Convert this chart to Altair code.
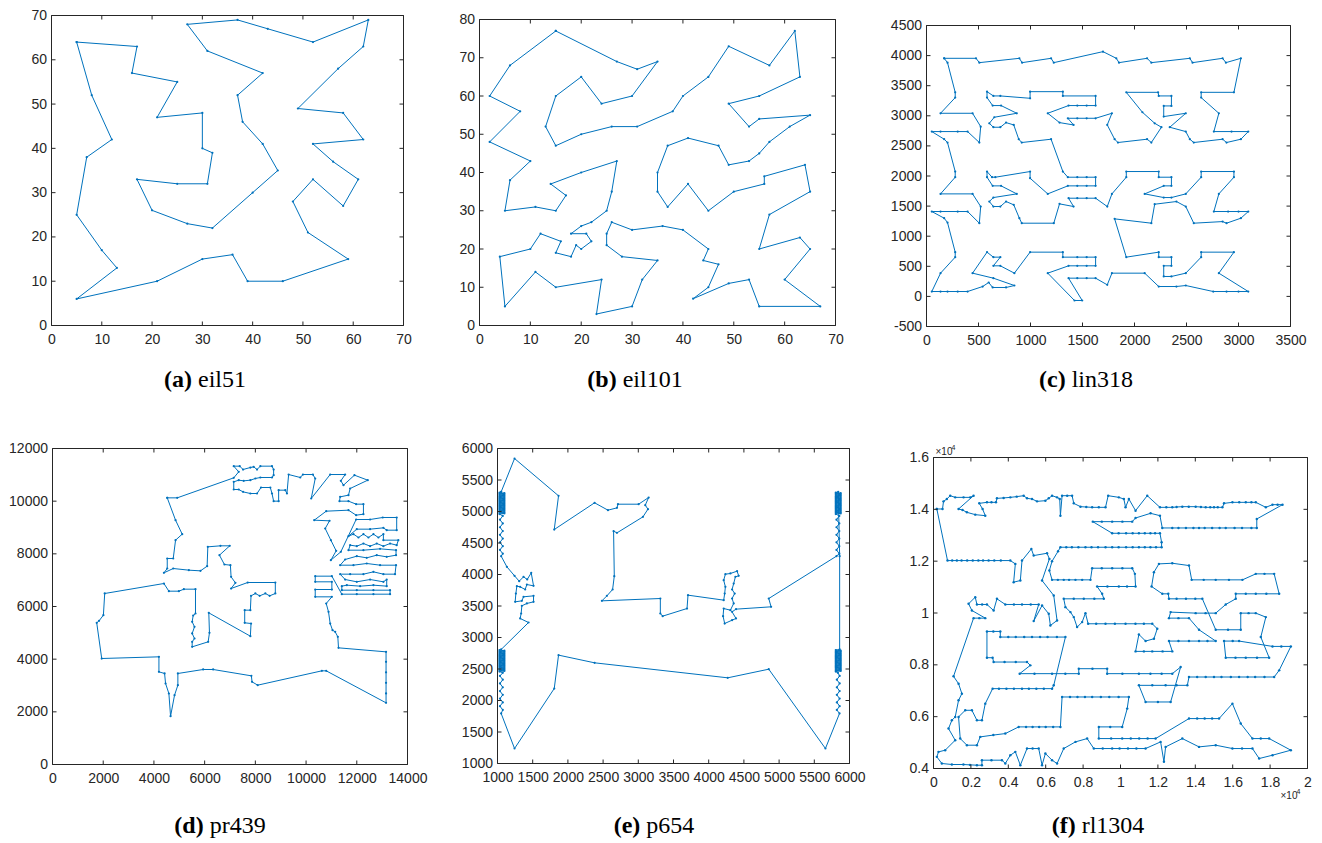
import altair as alt
import pandas as pd

BLUE = "#0072BD"
AX = "#262626"
SANS = "Liberation Sans"
SERIF = "Liberation Serif"
W, H = 1322, 843

# ---------------- data (tours) ----------------
eil51_x = [5, 17, 16, 25, 21, 30, 30, 32, 31, 25, 17, 20, 27, 32, 40, 45, 42, 38, 37, 42, 31, 27, 37, 43, 52, 63,
           62, 57, 49, 58, 62, 52, 56, 61, 58, 52, 48, 51, 59, 46, 39, 36, 30, 21, 5, 13, 10, 5, 7, 12, 8]
eil51_y = [64, 63, 57, 55, 47, 48, 40, 39, 32, 32, 33, 26, 23, 22, 30, 35, 41, 46, 52, 57, 62, 68, 69, 67, 64, 69,
           63, 58, 49, 48, 42, 41, 37, 33, 27, 33, 28, 21, 15, 10, 10, 16, 15, 10, 6, 13, 17, 25, 38, 42, 52]

eil101_x = [15, 27, 31, 35, 30, 24, 20, 15, 13, 15, 20, 26, 31, 38, 40, 45, 49, 57, 62, 63, 55, 49, 53, 55, 65, 61,
            57, 55, 53, 49, 47, 41, 37, 35, 35, 37, 41, 45, 50, 56, 56, 64, 65, 57, 55, 63, 65, 60, 67, 55, 53, 49,
            42, 45, 47, 44, 45, 40, 36, 30, 26, 25, 25, 28, 35, 32, 30, 23, 24, 15, 11, 5, 4, 10, 12, 16, 15, 18,
            19, 20, 22, 21, 18, 20, 22, 25, 26, 27, 20, 14, 17, 15, 11, 5, 6, 10, 2, 8, 2, 6]
eil101_y = [77, 69, 67, 69, 60, 58, 65, 60, 52, 47, 50, 52, 52, 56, 60, 65, 73, 68, 77, 65, 60, 58, 52, 54, 55, 52,
            48, 45, 43, 42, 47, 49, 47, 40, 35, 31, 37, 30, 35, 37, 39, 42, 35, 29, 20, 23, 20, 12, 5, 5, 12, 11,
            7, 10, 16, 17, 20, 25, 26, 25, 27, 24, 21, 18, 17, 12, 5, 3, 12, 10, 14, 5, 18, 20, 24, 22, 19, 18,
            21, 20, 22, 24, 24, 26, 27, 30, 35, 43, 40, 37, 34, 30, 31, 30, 38, 43, 48, 56, 60, 68]

lin318_tour = [
    (170, 3955), (476, 3955), (508, 3883), (893, 3955), (919, 3883), (1198, 3955), (1224, 3883), (1697, 4066),
    (1825, 3955), (1851, 3883), (2121, 3955), (2162, 3883), (2532, 3955), (2558, 3883), (2847, 3955), (2879, 3883),
    (3023, 3955),
    (2956, 3390), (2641, 3390), (2641, 3302), (2811, 3042), (2763, 2738), (2933, 2738), (3094, 2738), (3023, 2611),
    (2885, 2556), (2847, 2611), (2570, 2556), (2532, 2611), (2493, 2738), (2339, 2810), (2493, 3042), (2281, 2987),
    (2281, 3164), (2355, 3164), (2355, 3330), (2233, 3330), (2227, 3390), (1921, 3390), (2076, 3059), (2194, 2876),
    (2259, 2810), (2162, 2556), (2121, 2611), (1841, 2556), (1809, 2611), (1738, 2848), (1783, 3042), (1626, 2959),
    (1540, 2959), (1450, 2959), (1359, 2959), (1414, 2848), (1279, 2887), (1166, 3042), (1366, 3170), (1450, 3170),
    (1540, 3170), (1626, 3170), (1626, 3330), (1311, 3330), (1311, 3401), (996, 3401), (996, 3291), (710, 3330),
    (643, 3330), (582, 3401), (582, 3302), (636, 3170), (717, 3170), (868, 3042), (652, 2976), (604, 2876),
    (643, 2810), (710, 2810), (765, 2887), (839, 2848), (887, 2611), (916, 2556), (1198, 2611), (1311, 2074),
    (1359, 1980), (1450, 1980), (1540, 1980), (1626, 1980), (1626, 1836), (1540, 1836), (1450, 1836), (1359, 1836),
    (1166, 1703), (996, 1963), (996, 2074), (662, 1980), (630, 1980), (582, 2074), (582, 1980), (636, 1836),
    (717, 1836), (868, 1703), (643, 1642), (604, 1576), (643, 1493), (710, 1493), (765, 1576), (839, 1521),
    (893, 1299), (916, 1216), (1224, 1216), (1279, 1537), (1414, 1493), (1366, 1631), (1450, 1631), (1540, 1631),
    (1626, 1631), (1738, 1493), (1783, 1703), (1921, 1980), (1921, 2074), (2233, 2074), (2233, 1980), (2355, 1980),
    (2355, 1836), (2281, 1836), (2098, 1703), (2281, 1642), (2355, 1642), (2493, 1703), (2641, 1980), (2641, 2074),
    (2956, 2074), (2956, 1980), (2811, 1703), (2763, 1410), (2900, 1410), (3000, 1410), (3094, 1410), (3023, 1299),
    (2885, 1216), (2847, 1243), (2570, 1216), (2493, 1493), (2403, 1576), (2194, 1531), (2162, 1216), (1809, 1288),
    (1921, 652),
    (2233, 735), (2233, 652), (2355, 652), (2355, 508), (2281, 508), (2281, 331), (2355, 331), (2493, 386),
    (2641, 652), (2641, 735), (2956, 735), (2811, 386), (3094, 81), (3000, 81), (2885, 81), (2757, 81), (2493, 181),
    (2403, 164), (2233, 164), (2098, 386), (1783, 386), (1738, 192), (1626, 303), (1540, 303), (1450, 303),
    (1366, 303), (1497, -68), (1423, -68), (1166, 386), (1366, 508), (1450, 508), (1540, 508), (1626, 508),
    (1626, 652), (1540, 652), (1450, 652), (1311, 652), (1311, 735), (996, 735), (845, 386), (710, 508), (643, 508),
    (710, 652), (643, 652), (582, 735), (443, 386), (643, 303), (845, 181), (765, 148), (636, 148), (598, 231),
    (540, 164), (395, 81), (300, 81), (202, 81), (135, 81), (51, 81),
    (135, 386), (276, 652), (276, 735), (202, 1227), (170, 1299), (51, 1410), (135, 1410), (300, 1410), (395, 1410),
    (508, 1216), (521, 1493), (443, 1703), (135, 1703), (276, 1980), (276, 2074), (202, 2556), (170, 2611),
    (51, 2738), (135, 2738), (300, 2738), (395, 2738), (508, 2556), (521, 2820), (443, 3042), (135, 3042),
    (276, 3302), (276, 3390), (202, 3883),
]

pr439_tour = [
    (4525, 10126), (4918, 10126), (7148, 10886), (7344, 11114), (7148, 11329), (7384, 11329), (7515, 11202),
    (7803, 11278), (7934, 11303), (8066, 11202), (8197, 11329), (8656, 11329), (8721, 11202), (8721, 10987),
    (8656, 10899), (8197, 10899), (8000, 10861), (7803, 10797), (7541, 10772), (7344, 10797), (7148, 10734),
    (7148, 10443), (7344, 10443), (7515, 10354), (7803, 10291), (8066, 10291), (8223, 10519), (8590, 10519),
    (8656, 10291), (8721, 10000), (8918, 10000), (8918, 10418), (9181, 10418), (9246, 10291), (9312, 11012),
    (9771, 10899), (9876, 11012), (10269, 11012), (10361, 10861), (10203, 10101), (10951, 11012), (11541, 11012),
    (11371, 10772), (11476, 10607), (11908, 10987), (12433, 10797), (11738, 10481), (11672, 10228), (11344, 10164),
    (11318, 10000), (11672, 10000), (11974, 9886), (12262, 9886), (12262, 9506), (11974, 9468), (11672, 9658),
    (10794, 9620), (10322, 9278), (10925, 9253), (10754, 8962), (10977, 8519), (11187, 8114), (10977, 7759),
    (11371, 8076),
    (11974, 9304), (12525, 9304), (13023, 9380), (13574, 9380),
    (13574, 8898), (13180, 8898), (13049, 8987), (12525, 8937), (12000, 8937),
    (11672, 8671), (11869, 8747), (12066, 8620), (12262, 8747), (12459, 8620), (12656, 8747), (12853, 8620),
    (13049, 8747), (13049, 8519), (13639, 8519),
    (13574, 8329), (13312, 8392), (13049, 8291), (12787, 8392), (12525, 8291), (12262, 8392), (12000, 8291),
    (11738, 8329),
    (11672, 8139), (12262, 8139), (12918, 8190), (13548, 8139),
    (13548, 7949), (13180, 7886), (12787, 7949), (12393, 7848), (12000, 7911), (11541, 7785),
    (11344, 7569), (11869, 7569), (12393, 7633), (12918, 7569), (13548, 7569),
    (13508, 7228), (13049, 7228), (12656, 7316), (12262, 7228), (11738, 7228), (11344, 7228),
    (11541, 7025), (12000, 6937), (12525, 7025), (13049, 6937), (13180, 7025),
    (13180, 6772), (12656, 6810), (12131, 6772), (11607, 6810), (11410, 6772),
    (11410, 6620), (12000, 6620), (12656, 6620), (13312, 6620),
    (13312, 6468), (12656, 6468), (12000, 6468), (11410, 6468),
    (11017, 7152), (10361, 7152), (10361, 6937), (11017, 6937), (11017, 6645), (10361, 6645), (10361, 6367),
    (11017, 6367),
    (10794, 6114), (10885, 5797), (10951, 5354), (11043, 5101), (11148, 5038), (11252, 4848), (11279, 4430),
    (13154, 4278), (13154, 3900), (13154, 3500), (13154, 3100), (13154, 2700), (13154, 2342), (10794, 3557),
    (10623, 3557), (8092, 3013), (7869, 3139), (7843, 3367), (6335, 3608), (5941, 3608), (4944, 3456),
    (4944, 3013), (4813, 2633), (4656, 1835), (4590, 2696), (4459, 3076), (4420, 3456), (4197, 3519),
    (4197, 4089), (1941, 4025), (1744, 5380), (1836, 5456), (2007, 5671), (2059, 6494), (4394, 6873),
    (4590, 6582), (4984, 6582), (5180, 6658), (5639, 6658), (5639, 5734), (5548, 5658), (5508, 5418),
    (5600, 5228), (5508, 4975), (5600, 4785), (5508, 4658), (5508, 4468), (6138, 4658), (6190, 5000),
    (6164, 5759), (7803, 4873), (7830, 5354), (7580, 5380), (7580, 5861), (7803, 5861), (7830, 6405),
    (8000, 6494), (8171, 6405), (8394, 6494), (8564, 6405), (8787, 6494), (8787, 6911), (7698, 6911),
    (7043, 6683), (7213, 6899), (7043, 7126), (7016, 7569), (6780, 7595), (6584, 7949), (6990, 8304),
    (6623, 8304), (6125, 8266), (6098, 7532), (5836, 7354), (5377, 7380), (4761, 7443), (4394, 7278),
    (4525, 7443), (4525, 7823), (4761, 7823), (4853, 8519), (5115, 8747), (4853, 9278),
]

p654_tour = [
    (1052, 5312), (1242, 5841), (1867, 5249), (1806, 4714), (2379, 5138), (2569, 5021), (2697, 5058), (2711, 5116),
    (3005, 5116), (3147, 5222), (3099, 5101), (3137, 5037), (3066, 4915), (2697, 4661), (2649, 4688), (2659, 3974),
    (2635, 3762), (2554, 3661), (2483, 3582), (3313, 3619), (3313, 3381), (3346, 3339), (3692, 3460), (3706, 3672),
    (4213, 3593), (4227, 3698), (4237, 3804), (4213, 3910), (4237, 4005), (4308, 4016), (4403, 4053), (4426, 3979),
    (4379, 3963), (4355, 3857), (4332, 3762), (4369, 3698), (4332, 3619), (4355, 3540), (4308, 3434), (4213, 3460),
    (4204, 3339), (4227, 3222), (4332, 3275), (4388, 3302), (4332, 3407), (4388, 3450), (4886, 3487), (4853, 3619),
    (5815, 4291),
    (5855, 4330), (5815, 4390), (5855, 4450), (5815, 4510), (5855, 4570), (5815, 4630), (5855, 4690), (5815, 4750),
    (5855, 4810), (5815, 4870), (5855, 4930),
    (5805, 4960), (5875, 4970), (5805, 4980), (5875, 4990), (5805, 5000), (5875, 5010), (5805, 5020), (5875, 5030),
    (5805, 5040), (5875, 5050), (5805, 5060), (5875, 5070), (5805, 5080), (5875, 5090), (5805, 5100), (5875, 5110),
    (5805, 5120), (5875, 5130), (5805, 5140), (5875, 5150), (5805, 5160), (5875, 5170), (5805, 5180), (5875, 5190),
    (5805, 5200), (5875, 5210), (5805, 5220), (5875, 5230), (5805, 5240), (5875, 5250), (5805, 5260), (5875, 5270),
    (5805, 5280), (5875, 5290), (5805, 5300), (5840, 5312),
    (5860, 4291), (5860, 2810),
    (5805, 2800), (5875, 2790), (5805, 2780), (5875, 2770), (5805, 2760), (5875, 2750), (5805, 2740), (5875, 2730),
    (5805, 2720), (5875, 2710), (5805, 2700), (5875, 2690), (5805, 2680), (5875, 2670), (5805, 2660), (5875, 2650),
    (5805, 2640), (5875, 2630), (5805, 2620), (5875, 2610), (5805, 2600), (5875, 2590), (5805, 2580), (5875, 2570),
    (5805, 2560), (5875, 2550), (5805, 2540), (5875, 2530), (5805, 2520), (5875, 2510), (5805, 2500), (5875, 2490),
    (5805, 2480), (5875, 2470), (5805, 2460),
    (5835, 2440), (5860, 2390), (5820, 2330), (5860, 2270), (5820, 2210), (5860, 2150),
    (5820, 2090), (5860, 2030), (5820, 1970), (5860, 1910), (5820, 1850), (5858, 1794),
    (5658, 1238), (4853, 2497), (4270, 2360), (2379, 2598), (1867, 2720), (1806, 2190), (1242, 1238), (1052, 1794),
    (1075, 1850), (1035, 1910), (1075, 1970), (1035, 2030), (1075, 2090), (1035, 2150), (1075, 2210), (1035, 2270),
    (1075, 2330), (1035, 2390), (1075, 2440),
    (1028, 2460), (1098, 2470), (1028, 2480), (1098, 2490), (1028, 2500), (1098, 2510), (1028, 2520), (1098, 2530),
    (1028, 2540), (1098, 2550), (1028, 2560), (1098, 2570), (1028, 2580), (1098, 2590), (1028, 2600), (1098, 2610),
    (1028, 2620), (1098, 2630), (1028, 2640), (1098, 2650), (1028, 2660), (1098, 2670), (1028, 2680), (1098, 2690),
    (1028, 2700), (1098, 2710), (1028, 2720), (1098, 2730), (1028, 2740), (1098, 2750), (1028, 2760), (1098, 2770),
    (1028, 2780), (1098, 2790), (1028, 2800), (1052, 2810),
    (1441, 3238), (1322, 3302), (1336, 3381), (1346, 3503), (1417, 3540), (1512, 3566), (1512, 3661), (1370, 3646),
    (1346, 3582), (1251, 3566), (1261, 3698), (1275, 3815), (1322, 3804), (1393, 3762), (1417, 3841), (1512, 3820),
    (1479, 4026), (1422, 3921), (1370, 3963), (1308, 3894), (1242, 3979), (1133, 4122), (1052, 4291),
    (1075, 4330), (1035, 4390), (1075, 4450), (1035, 4510), (1075, 4570), (1035, 4630), (1075, 4690), (1035, 4750),
    (1075, 4810), (1035, 4870), (1075, 4930),
    (1028, 4960), (1098, 4970), (1028, 4980), (1098, 4990), (1028, 5000), (1098, 5010), (1028, 5020), (1098, 5030),
    (1028, 5040), (1098, 5050), (1028, 5060), (1098, 5070), (1028, 5080), (1098, 5090), (1028, 5100), (1098, 5110),
    (1028, 5120), (1098, 5130), (1028, 5140), (1098, 5150), (1028, 5160), (1098, 5170), (1028, 5180), (1098, 5190),
    (1028, 5200), (1098, 5210), (1028, 5220), (1098, 5230), (1028, 5240), (1098, 5250), (1028, 5260), (1098, 5270),
    (1028, 5280), (1098, 5290), (1028, 5300),
]

rl1304_tour = [
    (179, 14013), (482, 14013), (536, 14308), (714, 14398), (893, 14526), (1161, 14462), (1607, 14462),
    (1965, 14462), (2143, 14526), (1340, 14013), (1554, 13974), (1786, 13884), (2233, 13795), (2768, 13756),
    (2625, 14013), (2447, 14231), (2858, 14270), (3100, 14270), (3340, 14270), (3393, 14424), (3750, 14440),
    (4108, 14462), (4450, 14490), (4822, 14526), (5001, 14424), (5269, 14398), (5537, 14308), (5983, 14334),
    (6162, 14424), (6340, 14526), (6608, 14462), (6751, 14398), (6787, 13756), (6876, 14526), (7150, 14526),
    (7412, 14526), (7501, 14231), (7858, 14103), (8170, 14090), (8484, 14077), (8840, 14077), (9198, 14077),
    (9341, 14526), (9912, 14462), (10180, 14398), (10270, 14077), (10448, 14398), (10805, 13949), (11430, 14526),
    (12109, 14077), (12450, 14077), (12770, 14077), (13000, 14090), (13306, 14103), (13650, 14103), (14020, 14103),
    (14300, 14090), (14556, 14077), (14800, 14077), (15000, 14077), (15200, 14077), (15449, 14077), (15538, 14231),
    (15985, 14270), (16350, 14270), (16699, 14270), (17000, 14270), (17235, 14270), (17771, 14077), (18128, 14180),
    (18400, 14180), (18664, 14180), (17288, 13628), (17288, 13281), (17000, 13281), (16500, 13281), (16100, 13281),
    (15628, 13281), (15300, 13281), (14900, 13281), (14500, 13281), (14199, 13281), (13900, 13281), (13500, 13281),
    (13100, 13281), (12770, 13281), (12234, 13281), (12109, 13756), (11609, 13846), (10805, 13666), (10627, 13525),
    (10100, 13525), (9555, 13525), (9000, 13525), (8519, 13525), (9555, 13076), (9900, 13076), (10300, 13076),
    (10650, 13076), (10984, 13076), (11300, 13076), (11600, 13076), (11850, 13076), (12109, 13076), (12198, 12729),
    (12198, 12537), (11900, 12537), (11600, 12537), (11300, 12537), (10984, 12537), (10650, 12537), (10300, 12537),
    (9900, 12537), (9555, 12537), (9200, 12537), (8800, 12537), (8450, 12537), (8126, 12537), (7750, 12537),
    (7400, 12537), (7100, 12537), (6787, 12537),
    (6662, 12383), (6340, 11998), (6197, 11638), (6340, 11279), (6650, 11279), (6965, 11279), (7250, 11279),
    (7591, 11279), (7950, 11279), (8394, 11279), (8484, 11728), (9000, 11728), (9555, 11728), (10100, 11728),
    (10627, 11728), (10770, 11510), (10805, 11022), (10350, 11022), (9912, 11022), (9300, 11022), (8751, 11022),
    (9019, 10740), (9109, 10547), (8600, 10547), (8037, 10547), (7500, 10547), (6965, 10547), (7055, 10226),
    (7323, 10034), (7501, 9841), (7680, 9456), (7948, 9648), (8126, 9995), (8269, 9584), (8700, 9584),
    (9198, 9584), (9700, 9584), (10270, 9584), (10800, 9584), (11250, 9584), (11698, 9584), (11966, 9392),
    (11788, 9006), (11341, 8917), (10984, 9173), (10805, 8519), (11250, 8519), (11698, 8519), (12250, 8519),
    (12770, 8519), (12591, 8917), (13100, 8917), (13663, 8917), (14200, 8917), (14650, 8917), (15092, 8917),
    (14199, 9353), (13663, 9802), (13100, 9802), (12591, 9802), (12681, 10034), (14020, 9995), (14550, 9995),
    (15092, 9995), (15628, 10329), (16163, 10547), (16163, 10740), (16700, 10740), (17235, 10740), (17800, 10740),
    (18485, 10740), (18217, 11510), (17700, 11510), (17235, 11510), (16521, 11279), (15800, 11279), (15092, 11279),
    (14450, 11279), (13806, 11279), (13663, 11831), (12770, 11920), (12055, 11895), (11788, 11574), (11663, 11022),
    (12234, 10740), (12556, 10740), (12591, 10547), (13000, 10547), (13500, 10547), (14000, 10547), (14377, 10547),
    (15092, 9353), (15750, 9353), (16431, 9353), (16431, 9995), (16850, 9995), (17235, 9995), (17771, 9841),
    (17503, 9071), (17950, 8275), (17300, 8275), (16699, 8275), (16150, 8275), (15628, 8275), (15538, 8917),
    (16000, 8917), (16342, 8917), (18128, 8711), (18600, 8711), (19110, 8711), (18485, 7787), (18217, 7530),
    (17700, 7530), (17200, 7530), (16800, 7530), (16342, 7530), (15900, 7530), (15400, 7530), (15000, 7530),
    (14556, 7530), (14100, 7530), (13663, 7530), (13574, 7209), (13000, 7209), (12413, 7209), (11700, 7209),
    (10984, 7209), (11341, 6567), (12000, 6567), (12681, 6567), (13216, 7915), (12770, 7659), (12200, 7659),
    (11600, 7659), (10984, 7659), (10100, 7659), (9287, 7659), (9287, 7851), (8500, 7851), (7769, 7851),
    (7769, 7659), (7050, 7659), (6340, 7659), (5400, 7659), (4608, 7659), (5179, 7980), (5001, 8108),
    (4400, 8108), (3800, 8108), (3215, 8108), (3161, 8275), (2858, 8275), (2858, 9289), (3200, 9289),
    (3572, 9289), (3572, 9071), (4000, 9071), (4400, 9071), (4850, 9071), (5269, 9071), (5700, 9071),
    (6100, 9071), (6600, 9071), (7055, 9071),
    (6430, 7209), (6340, 7081), (5900, 7081), (5500, 7081), (5100, 7081), (4733, 7081), (4300, 7081),
    (3900, 7081), (3500, 7081), (3161, 7081), (2768, 6503), (2590, 5861), (2322, 5861), (2054, 6246),
    (1697, 6246), (1340, 5990), (1429, 5155), (1786, 4899), (2322, 4899), (2500, 5220), (3200, 5290),
    (3840, 5348), (4554, 5605), (4950, 5605), (5300, 5605), (5650, 5605), (6000, 5605), (6400, 5605),
    (6787, 5605), (6876, 6760), (7300, 6760), (7700, 6760), (8100, 6760), (8484, 6760), (8950, 6760),
    (9400, 6760), (9900, 6760), (10448, 6760), (10359, 6311), (10091, 5605), (9450, 5605), (8841, 5605),
    (8841, 5155), (9500, 5155), (10091, 5155), (10550, 5155), (11000, 5155), (11450, 5155), (11877, 5155),
    (13663, 5926), (14100, 5926), (14500, 5926), (14900, 5926), (15271, 5926), (15985, 6503), (16431, 5733),
    (17056, 5155), (17500, 5155), (17950, 5155), (19110, 4706), (18128, 4513), (17414, 4385), (17056, 4770),
    (16500, 4770), (15985, 4770), (15092, 4899), (14199, 4834), (13306, 5155), (12413, 4834), (12323, 4257),
    (12145, 5027), (11341, 4770), (10850, 4770), (10400, 4770), (9950, 4770), (9555, 4770), (9050, 4770),
    (8573, 4770), (8216, 5155), (7591, 5027), (6965, 4770), (6608, 4193), (6340, 4321), (5983, 4578),
    (5805, 4128), (5626, 4770), (5300, 4770), (5001, 4770), (4644, 4128), (4376, 4642), (4108, 4513),
    (3840, 4193), (3661, 4321), (3100, 4321), (2590, 4321), (2590, 4128), (2322, 4128), (1950, 4140),
    (1600, 4154), (982, 4154), (446, 4193), (179, 4449), (268, 4642), (625, 4706), (1161, 5091), (804, 5540),
    (982, 5861), (1161, 5990), (1340, 6632), (1518, 6888), (1340, 7273), (1072, 7556),
    (2143, 9802), (2450, 9802), (2768, 9802), (2054, 10097), (1875, 10354), (2233, 10611), (2322, 10329),
    (2600, 10329), (2858, 10329), (3215, 10097), (3393, 10547), (3840, 10329), (4300, 10329), (4733, 10329),
    (5200, 10329), (5626, 10329), (5358, 9687), (5805, 10290), (6162, 9969), (6251, 9520), (6608, 9712),
    (6430, 10675), (5805, 11253), (6197, 12087), (6072, 12305), (5358, 12216), (5233, 12472), (4733, 12023),
    (4644, 11253), (4286, 11189), (4376, 11895), (4108, 12023), (3600, 12023), (3250, 12023), (2947, 12023),
    (2650, 12023), (2400, 12023), (2100, 12023), (1800, 12023), (1500, 12023), (1250, 12023), (1000, 12023),
    (750, 12023),
]

# tick values
ticks_a = [0, 10, 20, 30, 40, 50, 60, 70]
ticks_b_y = [0, 10, 20, 30, 40, 50, 60, 70, 80]
ticks_c_x = [0, 500, 1000, 1500, 2000, 2500, 3000, 3500]
ticks_c_y = [-500, 0, 500, 1000, 1500, 2000, 2500, 3000, 3500, 4000, 4500]
ticks_d_x = [0, 2000, 4000, 6000, 8000, 10000, 12000, 14000]
ticks_d_y = [0, 2000, 4000, 6000, 8000, 10000, 12000]
ticks_e = [1000, 1500, 2000, 2500, 3000, 3500, 4000, 4500, 5000, 5500, 6000]
ticks_f_x = [0, 2000, 4000, 6000, 8000, 10000, 12000, 14000, 16000, 18000, 20000]
ticks_f_y = [4000, 6000, 8000, 10000, 12000, 14000, 16000]

# caption glyph widths (Times, em units) for laying out the mixed-weight captions
BOLD_W = {"(": .333, ")": .333, "a": .5, "b": .556, "c": .444, "d": .556, "e": .444, "f": .333}
REG_W = {"e": .444, "i": .278, "l": .278, "n": .5, "p": .5, "r": .333}
CAP_FS = 24


def text_width(s, table, fs):
    return sum(table.get(ch, .5) for ch in s) * fs


def txt(s, x, y, **kw):
    return alt.Chart(pd.DataFrame({"t": [s]})).mark_text(**kw).encode(
        x=alt.value(x), y=alt.value(y), text="t:N")


def panel(xs, ys, xdom, ydom, xt, yt, rect, bold, name, cap_x, cap_y, scaled=False, dot=5):
    L, T, R, B = [v + 0.5 for v in rect]
    xs = list(xs) + [xs[0]]
    ys = list(ys) + [ys[0]]
    df = pd.DataFrame({"x": xs, "y": ys, "i": list(range(len(xs)))})
    xsc = alt.Scale(domain=xdom, range=[L, R], nice=False, zero=False)
    ysc = alt.Scale(domain=ydom, range=[B, T], nice=False, zero=False)
    lab = "format(datum.value / 10000, '~g')" if scaled else "datum.value + ''"
    common = dict(title=None, ticks=False, tickSize=0, domain=False, grid=False, labelFont=SANS,
                  labelFontSize=14, labelColor=AX, labelFlush=False, labelOverlap=False, labelExpr=lab)
    xax = alt.Axis(orient="bottom", offset=B - H, values=xt, labelPadding=7, **common)
    yax = alt.Axis(orient="left", offset=-L, values=yt, labelPadding=5, **common)
    X = alt.X("x:Q", scale=xsc, axis=xax)
    Y = alt.Y("y:Q", scale=ysc, axis=yax)
    line = alt.Chart(df).mark_line(color=BLUE, strokeWidth=1).encode(x=X, y=Y, order="i:Q")
    dots = alt.Chart(df).mark_circle(color=BLUE, size=dot, opacity=1).encode(x=X, y=Y)
    box = alt.Chart(pd.DataFrame({"x0": [xdom[0]], "x1": [xdom[1]], "y0": [ydom[0]], "y1": [ydom[1]]})).mark_rect(
        filled=False, color=AX, strokeWidth=1
    ).encode(x=alt.X("x0:Q", scale=xsc, axis=xax), x2="x1:Q", y=alt.Y("y0:Q", scale=ysc, axis=yax), y2="y1:Q")
    tx = pd.DataFrame({"v": xt})
    ty = pd.DataFrame({"v": yt})
    XT = alt.X("v:Q", scale=xsc, axis=xax)
    YT = alt.Y("v:Q", scale=ysc, axis=yax)
    rk = dict(color=AX, strokeWidth=1)
    tb = alt.Chart(tx).mark_rule(**rk).encode(x=XT, y=alt.value(B), y2=alt.value(B - 4))
    tt = alt.Chart(tx).mark_rule(**rk).encode(x=XT, y=alt.value(T), y2=alt.value(T + 4))
    tl = alt.Chart(ty).mark_rule(**rk).encode(y=YT, x=alt.value(L), x2=alt.value(L + 4))
    tr = alt.Chart(ty).mark_rule(**rk).encode(y=YT, x=alt.value(R), x2=alt.value(R - 4))

    wb = text_width(bold, BOLD_W, CAP_FS)
    ws = 0.25 * CAP_FS
    wr = text_width(name, REG_W, CAP_FS)
    left = cap_x - (wb + ws + wr) / 2
    cap = dict(font=SERIF, fontSize=CAP_FS, align="left", baseline="middle", color="black")
    layers = [line, dots, box, tb, tt, tl, tr,
              txt(bold, left, cap_y, fontWeight="bold", **cap),
              txt(name, left + wb + ws, cap_y, **cap)]
    if scaled:
        mk = dict(font=SANS, color=AX, align="left", baseline="alphabetic")
        layers += [
            txt("\u00d710", L + 2, T - 3, fontSize=10, **mk),
            txt("4", L + 18, T - 8, fontSize=7, **mk),
            txt("\u00d710", R - 27, B + 30, fontSize=10, **mk),
            txt("4", R - 11, B + 25, fontSize=7, **mk),
        ]
    return alt.layer(*layers)


cx, cy = zip(*lin318_tour)
dx, dy = zip(*pr439_tour)
ex, ey = zip(*p654_tour)
fx, fy = zip(*rl1304_tour)

pa = panel(eil51_x, eil51_y, [0, 70], [0, 70], ticks_a, ticks_a, (51, 15, 403, 325), "(a)", "eil51", 205, 380)
pb = panel(eil101_x, eil101_y, [0, 70], [0, 80], ticks_a, ticks_b_y, (479, 19, 835, 325), "(b)", "eil101", 635, 380)
pc = panel(cx, cy, [0, 3500], [-500, 4500], ticks_c_x, ticks_c_y, (926, 25, 1290, 326), "(c)", "lin318", 1086, 380)
pd_ = panel(dx, dy, [0, 14000], [0, 12000], ticks_d_x, ticks_d_y, (52, 448, 407, 764), "(d)", "pr439", 220, 826)
pe = panel(ex, ey, [1000, 6000], [1000, 6000], ticks_e, ticks_e, (497, 448, 849, 763), "(e)", "p654", 654, 826)
pf = panel(fx, fy, [0, 20000], [4000, 16000], ticks_f_x, ticks_f_y, (933, 457, 1307, 768), "(f)", "rl1304",
           1098, 826, scaled=True, dot=6)

chart = alt.layer(pa, pb, pc, pd_, pe, pf).resolve_scale(
    x="independent", y="independent"
).properties(
    width=W, height=H, autosize=alt.AutoSizeParams(type="none"), padding=0, background="white"
).configure_view(strokeOpacity=0)

chart.save("out.html", embed_options={"renderer": "svg", "actions": False})
